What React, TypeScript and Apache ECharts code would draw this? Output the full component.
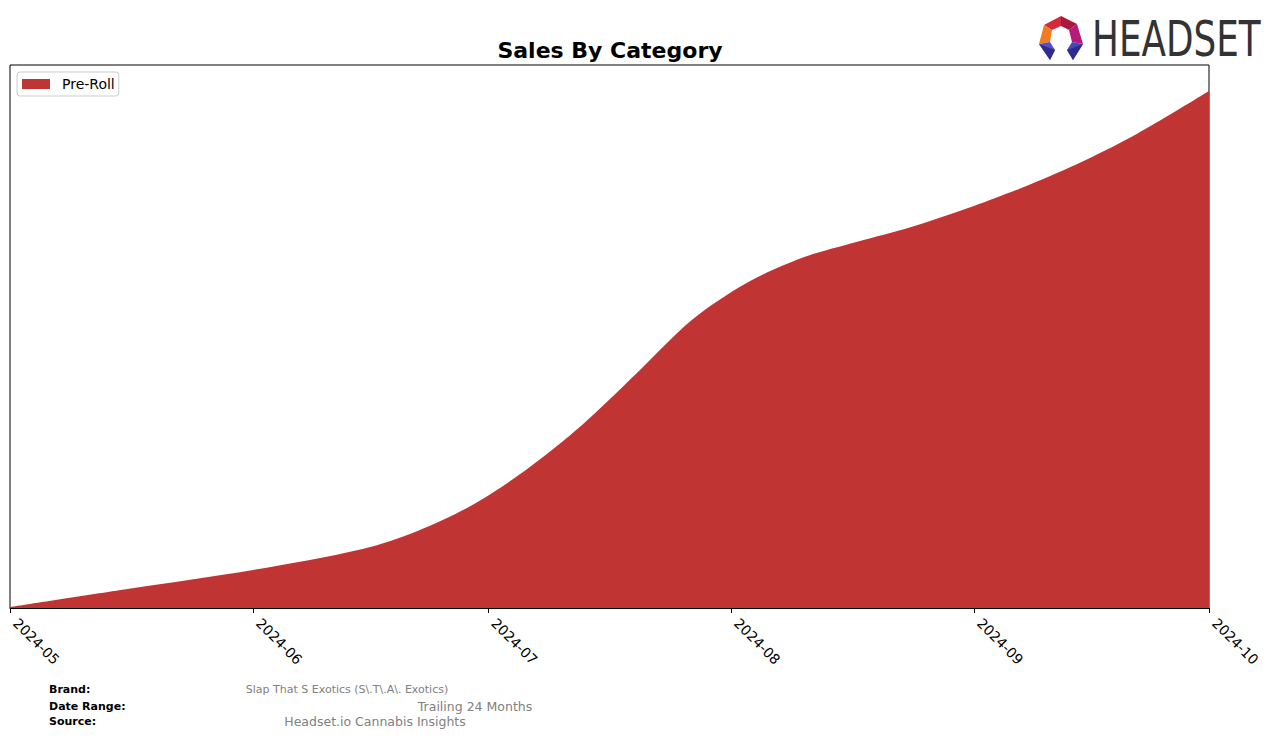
import React, { useEffect, useRef } from "react";
import * as echarts from "echarts";

const dates = [
  "2024-05-01", "2024-05-16", "2024-06-01", "2024-06-15", "2024-06-22",
  "2024-06-29", "2024-07-06", "2024-07-13", "2024-07-20", "2024-07-27",
  "2024-08-03", "2024-08-10", "2024-08-17", "2024-08-24", "2024-09-01",
  "2024-09-08", "2024-09-15", "2024-09-22", "2024-10-01",
];
const preRoll = [
  1, 19, 38, 59, 77,
  103, 139, 183, 235, 288,
  325, 350, 366, 381, 402,
  423, 447, 475, 517,
];
const tickLabels = ["2024-05", "2024-06", "2024-07", "2024-08", "2024-09", "2024-10"];
const seriesName = "Pre-Roll";

export default function App() {
  const ref = useRef<HTMLDivElement>(null);
  useEffect(() => {
    if (!ref.current) return;
    const chart = echarts.init(ref.current, undefined, { renderer: "svg" });
    const tickTimes = tickLabels.map((t) => new Date(t + "-01T00:00:00Z").getTime());
    const font = "DejaVu Sans";
    chart.setOption({
      animation: false,
      backgroundColor: "#ffffff",
      grid: {
        left: 10,
        right: 67,
        top: 65,
        bottom: 130,
        show: true,
        borderColor: "#000",
        borderWidth: 1,
        backgroundColor: "transparent",
      },
      legend: {
        show: true,
        left: 17,
        top: 72,
        orient: "vertical",
        borderColor: "#cccccc",
        borderWidth: 1,
        borderRadius: 3,
        padding: [5, 4, 5, 5],
        itemWidth: 28,
        itemHeight: 10,
        itemGap: 6,
        icon: "rect",
        textStyle: { fontFamily: font, fontSize: 14, color: "#000", padding: [0, 0, 0, 7] },
        data: [{ name: seriesName, itemStyle: { color: "#c03434" } }],
      },
      xAxis: {
        type: "value",
        min: tickTimes[0],
        max: tickTimes[tickTimes.length - 1],
        splitLine: { show: false },
        axisLine: { show: true, onZero: false, lineStyle: { color: "#000", width: 1 } },
        axisTick: {
          show: true,
          length: 5,
          lineStyle: { color: "#000" },
          customValues: tickTimes,
        },
        axisLabel: {
          show: true,
          rotate: -45,
          margin: 7,
          padding: [0, 0, 0, 8],
          fontFamily: font,
          fontSize: 14,
          color: "#000",
          customValues: tickTimes,
          showMinLabel: true,
          showMaxLabel: true,
          formatter: (v: number) => {
            let best = 0;
            for (let i = 0; i < tickTimes.length; i++) {
              if (Math.abs(tickTimes[i] - v) < Math.abs(tickTimes[best] - v)) best = i;
            }
            return tickLabels[best];
          },
          hideOverlap: false,
        },
      },
      yAxis: {
        type: "value",
        min: 0,
        max: 543,
        show: false,
        splitLine: { show: false },
      },
      series: [
        {
          name: seriesName,
          type: "line",
          smooth: 0.3,
          showSymbol: false,
          symbol: "none",
          color: "#c03434",
          lineStyle: { width: 0, color: "#c03434" },
          areaStyle: { color: "#c03434", opacity: 1 },
          data: dates.map((d, i) => [new Date(d + "T00:00:00Z").getTime(), preRoll[i]]),
        },
      ],
      graphic: [
        {
          type: "text",
          x: 610,
          y: 50,
          style: {
            text: "Sales By Category",
            font: `bold 22px "${font}"`,
            fill: "#000",
            align: "center",
            verticalAlign: "middle",
          },
        },
        { type: "polygon", shape: { points: [[1044, 25], [1061, 16], [1061, 26], [1052, 30]] }, style: { fill: "#d42a3c" } },
        { type: "polygon", shape: { points: [[1061, 16], [1077, 24], [1069, 30], [1061, 26]] }, style: { fill: "#a8183f" } },
        { type: "polygon", shape: { points: [[1044, 25], [1052, 30], [1050, 42], [1039, 44]] }, style: { fill: "#f07c22" } },
        { type: "polygon", shape: { points: [[1077, 24], [1083, 44], [1072, 42], [1069, 30]] }, style: { fill: "#b81a7a" } },
        { type: "polygon", shape: { points: [[1039, 44], [1050, 42], [1055, 50], [1050, 60]] }, style: { fill: "#5650c4" } },
        { type: "polygon", shape: { points: [[1039, 44], [1055, 50], [1050, 60]] }, style: { fill: "#2f2b8e" } },
        { type: "polygon", shape: { points: [[1083, 44], [1072, 42], [1067, 50], [1073, 60]] }, style: { fill: "#4b47bb" } },
        { type: "polygon", shape: { points: [[1083, 44], [1067, 50], [1073, 60]] }, style: { fill: "#2f2b8e" } },
        {
          type: "text",
          x: 1092,
          y: 39,
          scaleX: 0.73,
          style: {
            text: "HEADSET",
            font: `49px "${font}"`,
            fill: "#333333",
            align: "left",
            verticalAlign: "middle",
          },
        },
        { type: "text", x: 49, y: 689, style: { text: "Brand:", font: `bold 11px "${font}"`, fill: "#000", verticalAlign: "middle" } },
        { type: "text", x: 49, y: 706, style: { text: "Date Range:", font: `bold 11px "${font}"`, fill: "#000", verticalAlign: "middle" } },
        { type: "text", x: 49, y: 721, style: { text: "Source:", font: `bold 11px "${font}"`, fill: "#000", verticalAlign: "middle" } },
        { type: "text", x: 347, y: 689, style: { text: "Slap That S Exotics (S\\.T\\.A\\. Exotics)", font: `11px "${font}"`, fill: "#808080", align: "center", verticalAlign: "middle" } },
        { type: "text", x: 475, y: 706, style: { text: "Trailing 24 Months", font: `12.5px "${font}"`, fill: "#808080", align: "center", verticalAlign: "middle" } },
        { type: "text", x: 375, y: 721, style: { text: "Headset.io Cannabis Insights", font: `12.5px "${font}"`, fill: "#808080", align: "center", verticalAlign: "middle" } },
      ],
    });
    return () => chart.dispose();
  }, []);
  return (
    <div
      ref={ref}
      style={{ position: "fixed", left: 0, top: 0, width: 1276, height: 738, background: "#fff" }}
    />
  );
}
